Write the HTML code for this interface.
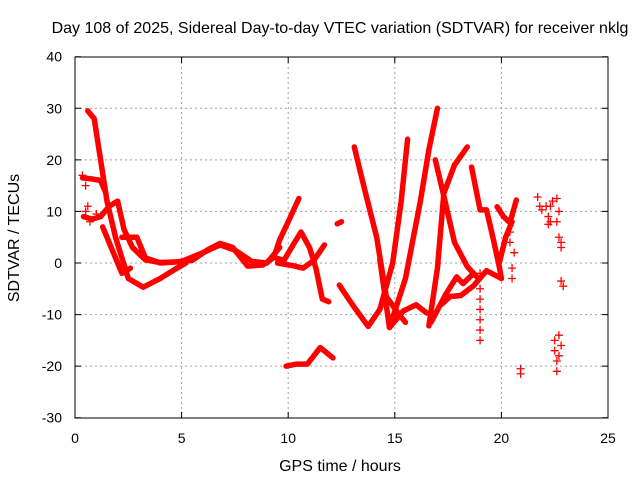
<!DOCTYPE html>
<html><head><meta charset="utf-8"><style>
body{margin:0;background:#fff}
svg{display:block;font-family:"Liberation Sans",sans-serif}
</style></head><body>
<svg id="c" width="640" height="480">
<text x="340" y="33" font-size="16" text-anchor="middle">Day 108 of 2025, Sidereal Day-to-day VTEC variation (SDTVAR) for receiver nklg</text>
<text x="340" y="471" font-size="16" text-anchor="middle">GPS time / hours</text>
<text x="19" y="238" font-size="16" text-anchor="middle" transform="rotate(-90 19 238)">SDTVAR / TECUs</text>
<g id="grid"></g>
<g id="marks"></g>
<rect x="75" y="57" width="533" height="361" fill="none" stroke="#000" stroke-width="1"/>
</svg>
<script>
const xTicks=[0,5,10,15,20,25];
const yTicks=[-30,-20,-10,0,10,20,30,40];
const track1=[[0.6,29.5],[0.9,28],[1.2,20],[1.5,12],[1.9,5],[2.5,-3],[3.2,-4.7],[4,-3],[4.7,-1.2],[5.2,0]];
const track2=[[0.35,16.5],[0.8,16.3],[1.2,16],[1.4,14]];
const track3=[[0.4,9],[0.8,8.5],[1.2,9],[1.6,11],[2,12],[2.3,6.5],[2.7,3],[3.3,0.6],[4,0.1],[4.7,0.2],[5.5,0.5],[6.2,2.5],[6.8,3.8],[7.4,3],[8.1,-0.6],[8.8,-0.4],[9.3,1]];
const track4=[[1.3,7],[1.7,3],[2.2,-2],[2.6,-1]];
const track5=[[2.2,5],[2.9,5],[3.3,1],[4,0],[5,0.3],[6,2],[6.8,3.5],[7.5,2.5],[8.3,0.3],[9,0],[9.6,3]];
const track6=[[9.4,2],[9.6,4.5],[10,8],[10.5,12.5]];
const track7=[[9.4,1],[9.8,0.5],[10.3,4],[10.6,6],[11,3],[11.3,-1],[11.6,-7],[11.9,-7.5]];
const track8=[[9.5,0],[10.2,-0.5],[10.7,-1],[11.2,0.5],[11.7,3.5]];
const track9=[[9.9,-20],[10.4,-19.6],[10.9,-19.6],[11.5,-16.4],[12.1,-18.4]];
const track10=[[13.1,22.5],[13.6,14],[14.15,5],[14.6,-6.5],[15.15,-9.7],[15.5,-11.5]];
const track11=[[12.4,-4.3],[13,-8],[13.75,-12.3],[14.3,-9],[14.9,0],[15.3,12],[15.6,24]];
const track12=[[14.3,0.6],[14.75,-12.5],[15.4,-9.3],[16,-8.1],[16.5,-9.7]];
const track13=[[14.75,-12.5],[15.5,-3],[16.2,12],[16.6,22],[17,30]];
const track14=[[16.6,-12.2],[17,-1],[17.3,13.5],[17.8,19],[18.4,22.5]];
const track15=[[16.9,20],[17.3,13],[17.8,4],[18.4,-0.7],[18.85,-2.7]];
const track16=[[16.7,-11.5],[17.4,-6],[17.9,-2.7],[18.2,-4],[18.7,-2]];
const track17=[[17.2,-8],[17.6,-6.5],[18.1,-6.3],[18.7,-4.4],[19.3,-1.5],[20,-3]];
const track18=[[18.6,18.6],[19,10.3],[19.3,10.3],[19.6,5],[19.9,-0.7],[20,-3]];
const track19=[[19.8,10.9],[20.1,9],[20.4,7.8],[20.7,12.2]];
const track20=[[19.9,0],[20.2,5],[20.5,8]];
const track21=[[12.3,7.6],[12.5,8]];
const plusH=[19,19,19,19,19,19,19,20.4,20.4,20.5,20.5,20.9,20.9,21.7,21.8,21.9,22.1,22.2,22.2,22.3,22.3,22.4,22.6,22.7,22.8,22.8,22.8,22.9,22.5,22.5,22.6,22.7,22.8,22.6,22.7,0.35,0.5,0.6,0.5,0.7,1.0,22.6,22.7,20.6];
const plusV=[-2,-5,-7,-9,-11,-13,-15,6,4,-1,-3,-20.5,-21.5,12.8,11,10.3,11,9,7.5,11,8,12,8,5,4,3,-3.5,-4.5,-15,-17,-19,-18,-16,-21,-14,17,15,11,10,8,9.5,12.5,10,2];
const X=h=>75+h*533/25, Y=v=>263-v*361/70;
const ns='http://www.w3.org/2000/svg';
const grid=document.getElementById('grid'), marks=document.getElementById('marks');
xTicks.forEach(t=>{
  const x=X(t);
  if(t>0&&t<25){const l=document.createElementNS(ns,'line');l.setAttribute('x1',x);l.setAttribute('x2',x);l.setAttribute('y1',57);l.setAttribute('y2',418);l.setAttribute('stroke','#a0a0a0');l.setAttribute('stroke-dasharray','2,3');
  
  grid.appendChild(l);}
  const tk=document.createElementNS(ns,'path');tk.setAttribute('d',`M${x} 418v-6M${x} 57v6`);tk.setAttribute('stroke','#000');grid.appendChild(tk);
  const tx=document.createElementNS(ns,'text');tx.setAttribute('x',x);tx.setAttribute('y',443);tx.setAttribute('font-size','14');tx.setAttribute('text-anchor','middle');tx.textContent=t;
  
  grid.appendChild(tx);
});
yTicks.forEach(t=>{
  const y=Y(t);
  if(t>-30&&t<40){const l=document.createElementNS(ns,'line');l.setAttribute('x1',75);l.setAttribute('x2',608);l.setAttribute('y1',y);l.setAttribute('y2',y);l.setAttribute('stroke','#a0a0a0');l.setAttribute('stroke-dasharray','2,3');
  
  grid.appendChild(l);}
  const tk=document.createElementNS(ns,'path');tk.setAttribute('d',`M75 ${y}h6M608 ${y}h-6`);tk.setAttribute('stroke','#000');grid.appendChild(tk);
  const tx=document.createElementNS(ns,'text');tx.setAttribute('x',62);tx.setAttribute('y',y+5);tx.setAttribute('font-size','14');tx.setAttribute('text-anchor','end');tx.textContent=t;
  
  grid.appendChild(tx);
});
const tracks=[track1,track2,track3,track4,track5,track6,track7,track8,track9,track10,track11,track12,track13,track14,track15,track16,track17,track18,track19,track20,track21];
tracks.forEach(tr=>{
  const p=document.createElementNS(ns,'polyline');
  p.setAttribute('points',tr.map(d=>X(d[0])+','+Y(d[1])).join(' '));
  p.setAttribute('fill','none');p.setAttribute('stroke','#f00');p.setAttribute('stroke-width','5.5');p.setAttribute('stroke-linejoin','round');p.setAttribute('stroke-linecap','round');
  
  
  marks.appendChild(p);
});
plusH.forEach((h,i)=>{
  const x=X(h),y=Y(plusV[i]);
  const p=document.createElementNS(ns,'path');
  p.setAttribute('d',`M${x-4} ${y}h8M${x} ${y-4}v8`);p.setAttribute('stroke','#f00');p.setAttribute('stroke-width','1.3');
  
  
  marks.appendChild(p);
});
</script>
</body></html>
